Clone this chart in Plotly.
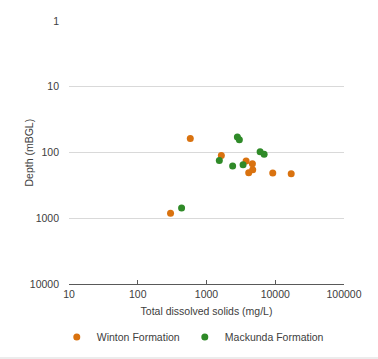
import plotly.graph_objects as go

winton_tds = [581, 1644, 3767, 4652, 4700, 4110, 9200, 17060, 300]
winton_depth = [61, 111, 135, 148, 183, 203, 205, 210, 840]
mackunda_tds = [2812, 3006, 6025, 6890, 1537, 2400, 3405, 434]
mackunda_depth = [58, 64, 97, 106, 132, 161, 154, 696]

x_ticks = [10, 100, 1000, 10000, 100000]
y_ticks = [1, 10, 100, 1000, 10000]

orange = "#D9720F"
green = "#2F8A28"
fs = 10.5
font = dict(family="Arial, Liberation Sans, sans-serif", size=fs, color="#404040")

fig = go.Figure()
fig.add_trace(go.Scatter(x=winton_tds, y=winton_depth, mode="markers", name="Winton Formation",
                         marker=dict(color=orange, size=7)))
fig.add_trace(go.Scatter(x=mackunda_tds, y=mackunda_depth, mode="markers", name="Mackunda Formation",
                         marker=dict(color=green, size=7)))

fig.update_layout(
    width=378, height=359, autosize=False,
    margin=dict(l=69, r=34, t=21, b=75),
    paper_bgcolor="white", plot_bgcolor="white",
    font=font,
    showlegend=True,
    legend=dict(orientation="h", xref="container", yref="container",
                x=0.51, xanchor="center", y=1 - 337 / 359, yanchor="middle",
                font=dict(size=fs, color="#404040"), itemwidth=30, tracegroupgap=0),
)
fig.update_xaxes(type="log", range=[1, 5], tickvals=x_ticks, ticktext=[str(v) for v in x_ticks],
                 tickfont=dict(size=fs, color="#404040"),
                 showgrid=False, showline=True, linecolor="#595959", linewidth=1,
                 ticks="inside", ticklen=4, tickcolor="#595959", zeroline=False, automargin=False,
                 title=dict(text="Total dissolved solids (mg/L)", standoff=9,
                            font=dict(size=fs, color="#404040")))
fig.update_yaxes(type="log", range=[4, 0], tickvals=y_ticks, ticktext=[str(v) for v in y_ticks],
                 tickfont=dict(size=fs, color="#404040"),
                 showgrid=True, gridcolor="#D9D9D9", gridwidth=1, showline=False, ticks="",
                 zeroline=False, ticklabelstandoff=9, automargin=False)
fig.add_annotation(text="Depth (mBGL)", textangle=-90, xref="paper", yref="paper",
                   x=-0.149, y=0.5, xanchor="center", yanchor="middle", showarrow=False,
                   font=dict(size=fs, color="#404040"))
fig.add_shape(type="line", xref="paper", yref="paper", x0=-0.3, x1=1.2,
              y0=-(358 - 284) / 263, y1=-(358 - 284) / 263,
              line=dict(color="#D9D9D9", width=1))

fig.write_html("out.html", config={"displayModeBar": False, "responsive": False},
               post_script="document.body.style.margin='0';")
